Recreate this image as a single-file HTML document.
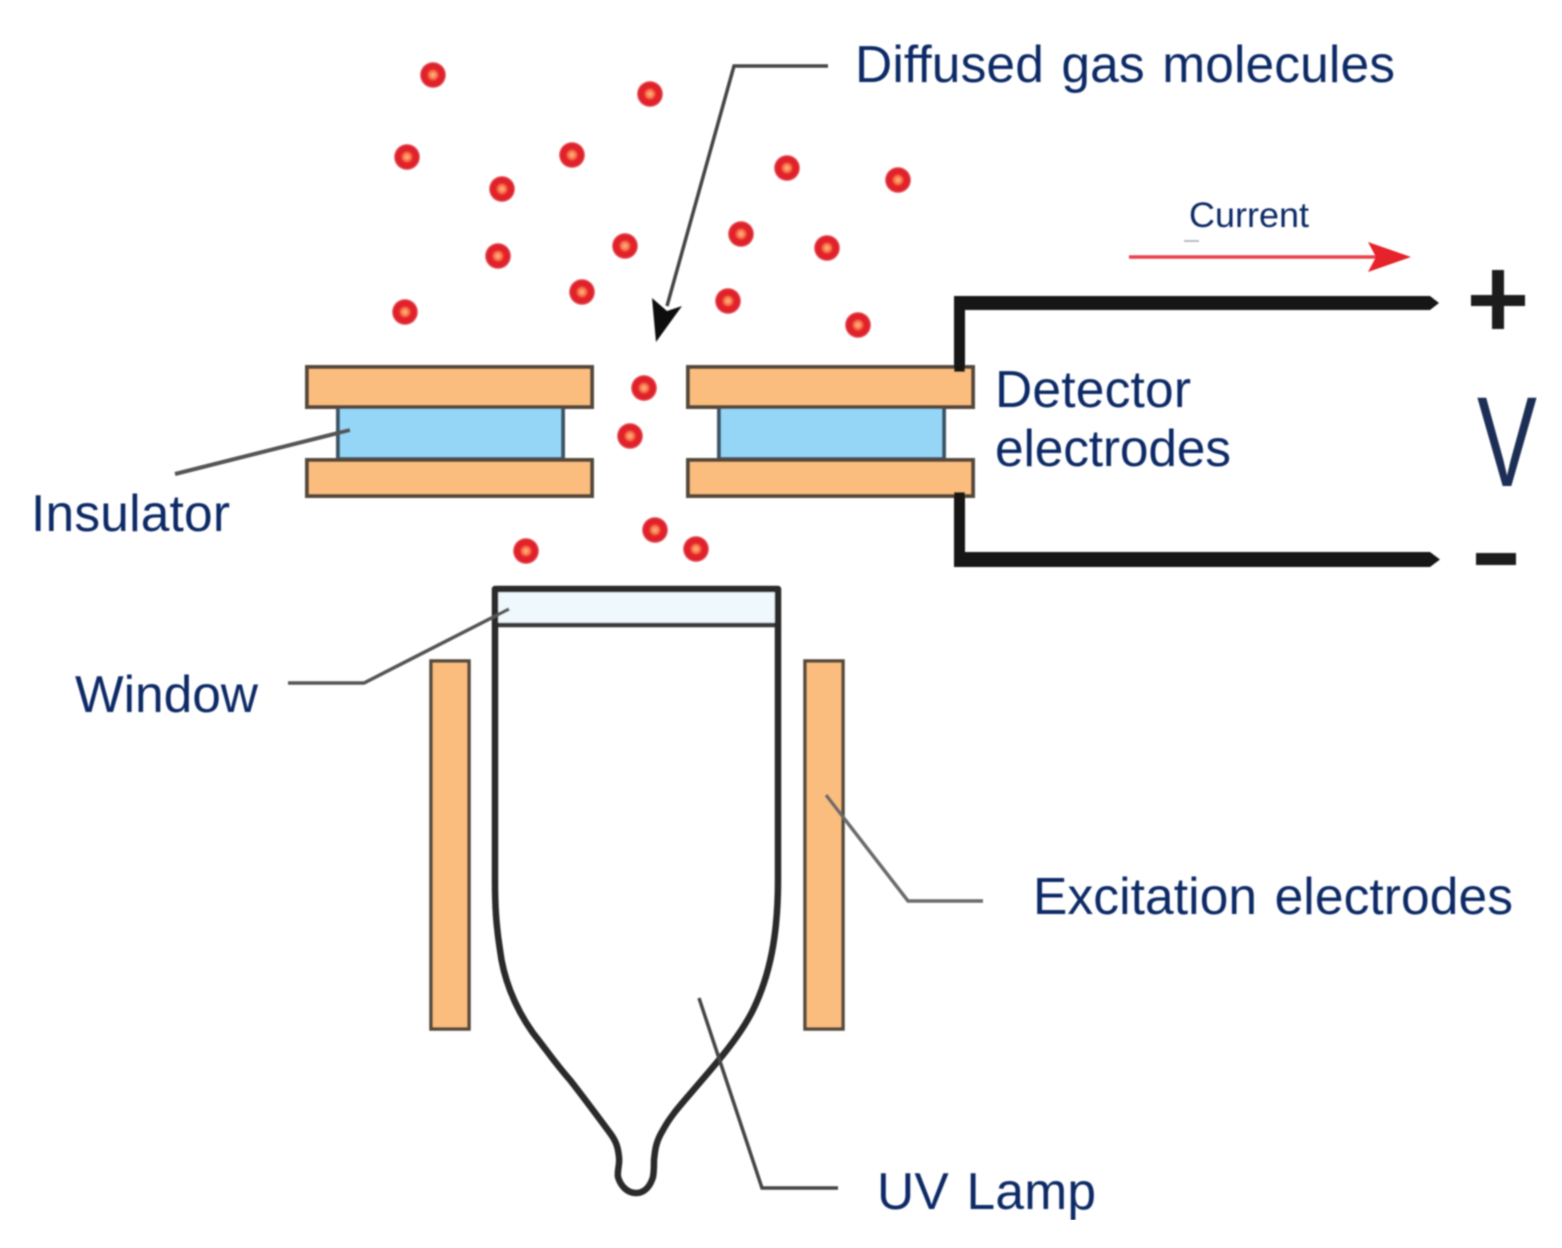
<!DOCTYPE html>
<html>
<head>
<meta charset="utf-8">
<style>
html,body{margin:0;padding:0;background:#fff;width:1562px;height:1248px;overflow:hidden}
svg{display:block}
text{font-family:"Liberation Sans",sans-serif;fill:#0e2a66}
</style>
</head>
<body>
<svg width="1562" height="1248" viewBox="0 0 1562 1248" xmlns="http://www.w3.org/2000/svg">
<defs>
<radialGradient id="rg">
<stop offset="0" stop-color="#fdbd80"/>
<stop offset="0.3" stop-color="#f8704a"/>
<stop offset="0.48" stop-color="#e5242b"/>
<stop offset="0.85" stop-color="#dc1f2a"/>
<stop offset="1" stop-color="#ee7a80"/>
</radialGradient>
<g id="m"><circle r="13" fill="url(#rg)"/></g>
<filter id="soft" x="0" y="0" width="100%" height="100%"><feGaussianBlur stdDeviation="0.7"/></filter>
</defs>
<rect width="1562" height="1248" fill="#fff"/>
<g filter="url(#soft)">

<!-- molecules -->
<use href="#m" x="433" y="75"/>
<use href="#m" x="650" y="94"/>
<use href="#m" x="407" y="157"/>
<use href="#m" x="572" y="155"/>
<use href="#m" x="502" y="189"/>
<use href="#m" x="787" y="168"/>
<use href="#m" x="898" y="180"/>
<use href="#m" x="498" y="256"/>
<use href="#m" x="625" y="246"/>
<use href="#m" x="741" y="234"/>
<use href="#m" x="827" y="248"/>
<use href="#m" x="582" y="292"/>
<use href="#m" x="728" y="301"/>
<use href="#m" x="405" y="312"/>
<use href="#m" x="858" y="325"/>
<use href="#m" x="644" y="388"/>
<use href="#m" x="630" y="436"/>
<use href="#m" x="655" y="530"/>
<use href="#m" x="526" y="551"/>
<use href="#m" x="696" y="549"/>

<!-- detector electrodes -->
<g stroke-width="4">
<rect x="338" y="407" width="225" height="52" fill="#95d6f7" stroke="#3d5566"/>
<rect x="719" y="407" width="225" height="52" fill="#95d6f7" stroke="#3d5566"/>
<g stroke="#54483c">
<rect x="307" y="367" width="285" height="40" fill="#fbbd7d"/>
<rect x="307" y="460" width="285" height="36" fill="#fbbd7d"/>
<rect x="688" y="367" width="285" height="40" fill="#fbbd7d"/>
<rect x="688" y="460" width="285" height="36" fill="#fbbd7d"/>
</g>
</g>

<!-- wires -->
<path d="M954 372V296H1430L1439 303L1430 310H965V372Z" fill="#151515"/>
<path d="M954 492V567H1430L1440 559.500L1430 552H965V492Z" fill="#151515"/>

<!-- excitation electrodes -->
<rect x="431" y="661" width="38" height="368" fill="#fbbd7d" stroke="#54483c" stroke-width="3.500"/>
<rect x="805" y="661" width="38" height="368" fill="#fbbd7d" stroke="#54483c" stroke-width="3.500"/>

<!-- lamp -->
<rect x="495" y="589" width="283" height="36" fill="#eef8fd"/>
<path d="M495 625H778" stroke="#3a3a3a" stroke-width="4.500" fill="none"/>
<path d="M495 880V589H778V880C778 935 770 975 753 1010C738 1040 712 1068 690 1094C678 1108 670 1117 663 1130C655 1143 655 1152 654 1160C654 1168 654 1172 653 1177C650 1187 644 1193 636 1193C628 1193 621 1187 618 1177C617 1170 620 1165 619 1157C618 1147 616 1141 610 1133C598 1117 585 1099 570 1080C555 1063 545 1048 533 1033C513 1005 503 975 500 950C496 925 495 905 495 880Z" fill="none" stroke="#2b2b2b" stroke-width="6.500" stroke-linejoin="round"/>

<!-- leader lines -->
<path d="M828 66H734L667 306" fill="none" stroke="#444" stroke-width="3.500"/>
<path d="M652 298L667 311L682 306L656 342Z" fill="#111"/>
<path d="M175 474L350 430" fill="none" stroke="#555" stroke-width="4"/>
<path d="M288 683H364L509 609" fill="none" stroke="#555" stroke-width="3.500"/>
<path d="M826 795L908 901H983" fill="none" stroke="#6a6a6a" stroke-width="3.500"/>
<path d="M699 998L762 1188H838" fill="none" stroke="#444" stroke-width="3.500"/>

<!-- current arrow -->
<path d="M1129 257H1395" stroke="#e8404a" stroke-width="3.500" fill="none"/>
<path d="M1368 242L1411 257L1368 272L1376 257Z" fill="#e6222c"/>
<path d="M1184 241H1199" stroke="#b8bcc4" stroke-width="2" fill="none"/>

<!-- + / - -->
<rect x="1471" y="295" width="54" height="11" fill="#1c1c1c"/>
<rect x="1492" y="270" width="12" height="59" fill="#1c1c1c"/>
<rect x="1476" y="553" width="40" height="12" fill="#1c1c1c"/>

<!-- labels -->
<text x="855" y="82" font-size="51.500" style="word-spacing:3px" textLength="540" lengthAdjust="spacing">Diffused gas molecules</text>
<text x="1189" y="227" font-size="35.500" textLength="120" lengthAdjust="spacingAndGlyphs">Current</text>
<text x="995" y="407" font-size="51.500" textLength="196" lengthAdjust="spacing">Detector</text>
<text x="995" y="466" font-size="51.500" textLength="236" lengthAdjust="spacing">electrodes</text>
<text x="31" y="531" font-size="51.500" textLength="199" lengthAdjust="spacing">Insulator</text>
<text x="75" y="712" font-size="51.500" textLength="183" lengthAdjust="spacing">Window</text>
<text x="1033" y="914" font-size="51.500" style="word-spacing:3px" textLength="480" lengthAdjust="spacing">Excitation electrodes</text>
<text x="877" y="1209" font-size="51.500" style="word-spacing:3px" textLength="219" lengthAdjust="spacing">UV Lamp</text>
<text x="1477" y="486" font-size="128" style="fill:#1c2f55" textLength="60" lengthAdjust="spacingAndGlyphs">V</text>
</g>
</svg>
</body>
</html>
